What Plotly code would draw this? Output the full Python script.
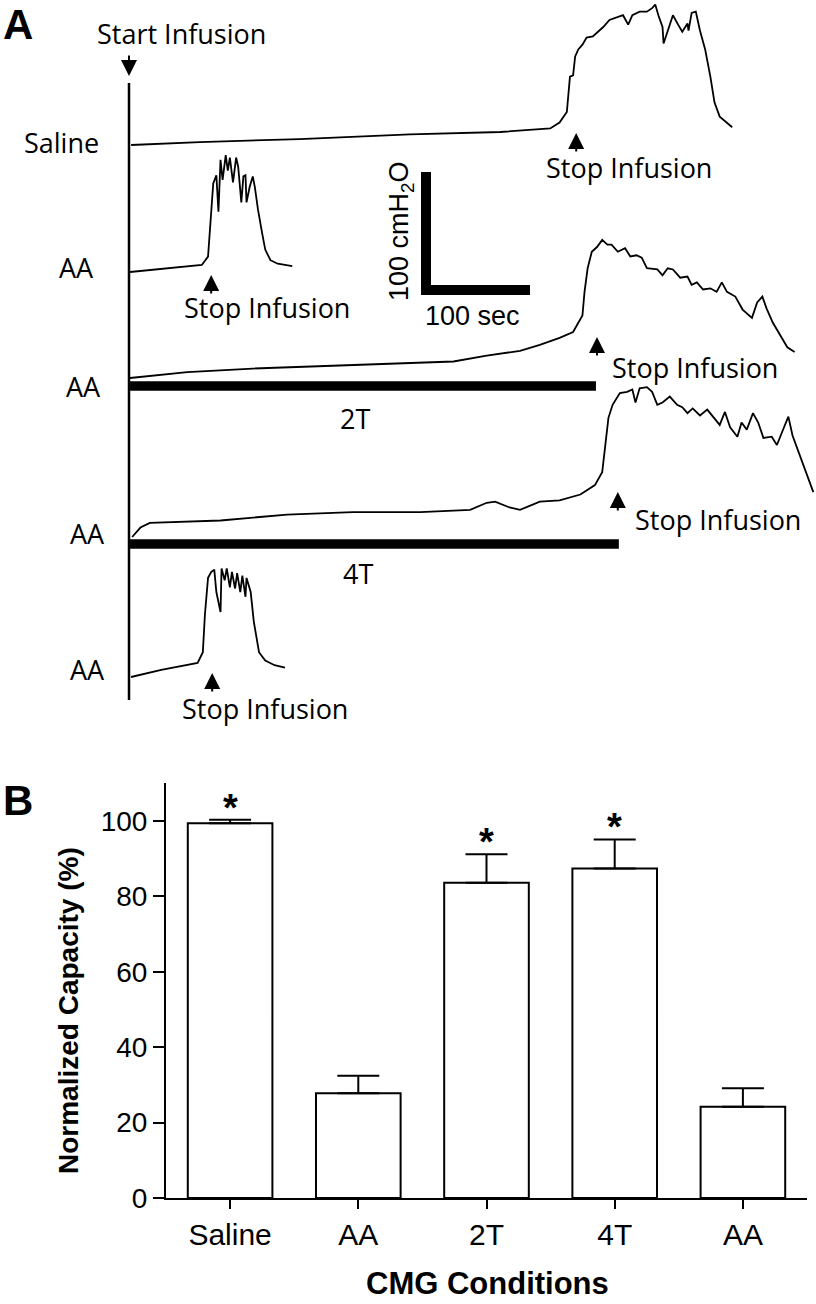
import plotly.graph_objects as go

# ---------------- Panel B data ----------------
conditions = ["Saline", "AA", "2T", "4T", "AA"]
capacity = [99.4, 27.8, 83.6, 87.4, 24.2]
capacity_sem = [0.9, 4.6, 7.6, 7.7, 4.9]
significant = [True, False, True, True, False]
y_ticks = [0, 20, 40, 60, 80, 100]

# ---------------- Panel A data (time in s, pressure in cmH2O) ----------------
saline_t = [2, 68, 164, 270, 357, 405, 414, 421, 424, 427, 429, 432, 436, 440, 446, 451, 456, 462, 469,
            475, 480, 484, 491, 498, 503, 506, 509, 513, 514, 518, 523, 528, 532, 537, 538, 541, 545,
            549, 554, 559, 563, 568, 575, 580]
saline_p = [0, 2.5, 5, 9, 11, 14, 19, 28, 58, 59, 75, 81, 85, 91, 92, 96, 100, 106, 108,
            110, 102, 110, 113, 113, 116, 119, 110, 100, 86, 96, 110, 102, 96, 103, 97, 112, 113,
            97, 81, 58, 36, 24, 19, 15]

aa1_t = [1, 33, 70, 76, 79, 81, 84, 86, 88, 90, 93, 95, 97, 100, 103, 105, 108, 110, 112, 113, 116,
         119, 121, 124, 128, 131, 136, 143, 157]
aa1_p = [0, 3, 6, 13, 55, 75, 82, 51, 95, 78, 99, 86, 97, 76, 97, 89, 59, 81, 82, 59, 72,
         81, 72, 53, 33, 19, 10, 7, 5]

t2_t = [1, 56, 119, 184, 248, 312, 344, 376, 395, 414, 427, 436, 438, 441, 445, 450, 455, 460, 464,
        470, 477, 482, 488, 493, 498, 508, 513, 518, 523, 530, 537, 541, 546, 552, 559, 565, 570,
        575, 583, 590, 599, 604, 609, 613, 619, 626, 633, 640]
t2_p = [0, 5, 8, 10, 12, 14, 19, 23, 28, 34, 39, 53, 73, 93, 107, 111, 117, 113, 113,
        107, 110, 103, 104, 102, 93, 92, 87, 93, 92, 85, 86, 79, 81, 75, 76, 73, 81,
        73, 69, 58, 51, 64, 69, 59, 47, 36, 26, 22]

t4_t = [3, 11, 20, 88, 152, 215, 280, 328, 344, 352, 366, 376, 395, 414, 434, 448, 455, 458, 461,
        465, 472, 479, 484, 487, 491, 498, 503, 508, 513, 520, 527, 532, 537, 542, 549, 556, 562,
        568, 573, 578, 585, 589, 594, 600, 605, 610, 618, 623, 628, 634, 638, 645, 652, 658]
t4_p = [0, 8, 12, 14, 19, 21, 21, 23, 29, 30, 25, 23, 30, 31, 36, 44, 55, 81, 101,
        112, 122, 123, 125, 114, 126, 127, 123, 112, 114, 119, 112, 110, 105, 109, 103, 108, 101,
        95, 106, 93, 85, 97, 91, 105, 97, 84, 85, 78, 89, 102, 86, 69, 53, 38]

aa2_t = [2, 31, 66, 71, 73, 76, 79, 82, 84, 88, 89, 92, 94, 97, 99, 102, 104, 107, 109, 112, 113,
         117, 120, 125, 131, 140, 150]
aa2_p = [0, 6, 12, 21, 53, 84, 89, 91, 72, 55, 92, 82, 92, 76, 89, 75, 88, 72, 86, 68, 84,
         72, 47, 21, 14, 10, 8]

trace_labels = ["Saline", "AA", "AA", "AA", "AA"]
stop_times = [430, 79, 450, 470, 80]
treatments = ["", "", "2T", "4T", ""]
treatment_end = [0, 0, 449, 471, 0]
scale_sec = 100
scale_cm = 100

# ---------------- layout helpers ----------------
W, H = 816, 1320          # the photo squeezes 1320 rows into 1304
SY = H / 1304.0
SEC_PX, CM_PX, T0_PX = 1.04, 1.18, 129


def xa(px):
    return (px - T0_PX) / SEC_PX


def ya(py):
    return -py / CM_PX


def paper(px, py):
    return px / W, 1 - (py * SY) / H


baseline_px = [145, 272, 378, 537, 677]
label_px = [(62, 143), (76, 268), (83, 387), (87, 533), (87, 670)]
arrow_tip_py = [133, 275, 337, 492, 673]
stop_text_px = [(629, 168), (267, 307), (695, 367), (718, 520), (265, 708)]
bar_py = [None, None, 386, 544, None]
treat_text_px = [None, None, (355, 418), (358, 573), None]

TXT = "Open Sans"
ARIAL = "Liberation Sans, Arial"
TSIZE = 27

fig = go.Figure()

series = [(saline_t, saline_p), (aa1_t, aa1_p), (t2_t, t2_p), (t4_t, t4_p), (aa2_t, aa2_p)]
for (tt, pp), b in zip(series, baseline_px):
    off = ya(b)
    fig.add_trace(go.Scatter(x=tt, y=[off + p for p in pp], mode="lines",
                             line=dict(color="black", width=1.8),
                             xaxis="x2", yaxis="y2", hoverinfo="skip", cliponaxis=False))

fig.add_trace(go.Scatter(x=[0, 0], y=[ya(83), ya(700)], mode="lines",
                         line=dict(color="black", width=2.5), xaxis="x2", yaxis="y2"))

for i, end in enumerate(treatment_end):
    if treatments[i]:
        fig.add_trace(go.Scatter(x=[1, end], y=[ya(bar_py[i])] * 2, mode="lines",
                                 line=dict(color="black", width=9.5), xaxis="x2", yaxis="y2"))

corner_t, corner_y = xa(426), ya(290)
fig.add_trace(go.Scatter(x=[corner_t, corner_t, corner_t + scale_sec],
                         y=[corner_y + scale_cm, corner_y, corner_y], mode="lines",
                         line=dict(color="black", width=10), xaxis="x2", yaxis="y2"))

annotations = []


def ptext(text, px, py, size, family, angle=0):
    x, y = paper(px, py)
    annotations.append(dict(text=text, x=x, y=y, xref="paper", yref="paper", showarrow=False,
                            xanchor="center", yanchor="middle", textangle=angle,
                            font=dict(family=family, size=size, color="black")))


def arrow(t, py, ay):
    annotations.append(dict(text="", x=t, y=ya(py), xref="x2", yref="y2", showarrow=True,
                            ax=0, ay=ay, arrowhead=2, arrowsize=1.6, arrowwidth=2,
                            arrowcolor="black"))


ptext("<b>A</b>", 18, 24, 42, ARIAL)
ptext("<b>B</b>", 18, 801, 42, ARIAL)

ptext("Start Infusion", 181, 33, TSIZE, TXT)
arrow(0, 76, -22)

for i in range(5):
    ptext(trace_labels[i], label_px[i][0], label_px[i][1], TSIZE, TXT)
    arrow(stop_times[i], arrow_tip_py[i], 20)
    ptext("Stop Infusion", stop_text_px[i][0], stop_text_px[i][1], TSIZE, TXT)
    if treatments[i]:
        ptext(treatments[i], treat_text_px[i][0], treat_text_px[i][1], TSIZE, TXT)

ptext("100 cmH<sub>2</sub>O", 401, 231, 27, ARIAL, angle=-90)
ptext("100 sec", 472, 316, 27, ARIAL)

xs = list(range(len(conditions)))
fig.add_trace(go.Bar(x=xs, y=capacity, width=0.66,
                     marker=dict(color="white", line=dict(color="black", width=2)),
                     error_y=dict(type="data", symmetric=False, array=capacity_sem,
                                  arrayminus=[0] * len(xs), color="black", thickness=2, width=21),
                     xaxis="x", yaxis="y", hoverinfo="skip"))

for i, sig in enumerate(significant):
    if sig:
        annotations.append(dict(text="<b>*</b>", x=xs[i], y=capacity[i] + capacity_sem[i],
                                xref="x", yref="y", showarrow=False, xanchor="center",
                                yanchor="middle", yshift=12,
                                font=dict(family=ARIAL, size=38, color="black")))

ptext("<b>Normalized Capacity (%)</b>", 68, 1011, 28, ARIAL, angle=-90)
ptext("<b>CMG Conditions</b>", 487, 1283, 31, ARIAL)

fig.update_layout(
    width=W, height=H, margin=dict(l=0, r=0, t=0, b=0),
    paper_bgcolor="white", plot_bgcolor="rgba(0,0,0,0)", showlegend=False,
    annotations=annotations,
    xaxis=dict(domain=[166 / W, 807 / W], range=[-0.5, 4.5], tickvals=xs, ticktext=conditions,
               showline=True, linecolor="black", linewidth=2, ticks="outside", ticklen=9,
               tickwidth=2, tickcolor="black", showgrid=False, zeroline=False,
               tickfont=dict(family=ARIAL, size=30, color="black"), fixedrange=True),
    yaxis=dict(domain=[1 - 1198 * SY / H, 1 - 783.3 * SY / H], range=[0, 110], tickvals=y_ticks,
               showline=True, linecolor="black", linewidth=2, ticks="outside", ticklen=11,
               tickwidth=2, tickcolor="black", showgrid=False, zeroline=False,
               tickfont=dict(family=ARIAL, size=28, color="black"), fixedrange=True),
    xaxis2=dict(domain=[0, 1], range=[xa(0), xa(W)], visible=False, anchor="y2", fixedrange=True),
    yaxis2=dict(domain=[0, 1], range=[-H / (CM_PX * SY), 0], visible=False, anchor="x2",
                fixedrange=True),
)

fig.write_html("out.html", config={"displayModeBar": False},
               post_script="document.body.style.margin='0';")
